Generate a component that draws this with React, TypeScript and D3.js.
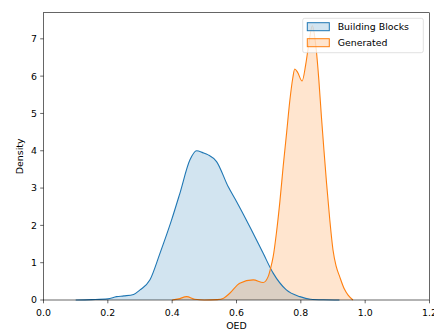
import React from "react";
import * as d3 from "d3";

const bbX = [0.10, 0.15, 0.20, 0.227, 0.25, 0.28, 0.30, 0.331, 0.362, 0.398, 0.424, 0.455, 0.476, 0.495, 0.512, 0.538, 0.574, 0.600, 0.641, 0.683, 0.714, 0.755, 0.797, 0.83, 0.87, 0.92];
const bbY = [0.0, 0.01, 0.03, 0.09, 0.11, 0.15, 0.27, 0.54, 1.25, 2.14, 2.86, 3.75, 4.00, 3.95, 3.89, 3.71, 3.04, 2.64, 1.97, 1.25, 0.72, 0.27, 0.09, 0.02, 0.005, 0];

const genX = [0.40, 0.42, 0.445, 0.47, 0.50, 0.54, 0.56, 0.579, 0.61, 0.652, 0.683, 0.698, 0.706, 0.714, 0.724, 0.735, 0.745, 0.756, 0.766, 0.775, 0.781, 0.79, 0.804, 0.815, 0.822, 0.836, 0.848, 0.856, 0.864, 0.872, 0.880, 0.890, 0.900, 0.910, 0.921, 0.935, 0.947, 0.962];
const genY = [0, 0.03, 0.09, 0.02, 0, 0.01, 0.05, 0.18, 0.45, 0.54, 0.47, 0.62, 0.85, 1.16, 1.79, 2.65, 3.57, 4.5, 5.36, 5.95, 6.19, 6.1, 5.87, 6.3, 6.70, 7.35, 6.70, 5.9, 4.91, 4.0, 3.13, 2.15, 1.34, 0.9, 0.62, 0.3, 0.13, 0];

const xTicks = [0.0, 0.2, 0.4, 0.6, 0.8, 1.0, 1.2];
const yTicks = [0, 1, 2, 3, 4, 5, 6, 7];
const seriesNames = ["Building Blocks", "Generated"];
const colors = ["#1f77b4", "#ff7f0e"];

const W = 434, H = 331;
const L = 43.5, R = 429.5, T = 12.7, B = 300;

export default function App() {
  const x = d3.scaleLinear().domain([0, 1.2]).range([L, R]);
  const y = d3.scaleLinear().domain([0, 7.7]).range([B, T]);
  const series = [
    bbX.map((v, i) => [v, bbY[i]] as [number, number]),
    genX.map((v, i) => [v, genY[i]] as [number, number]),
  ];
  const area = d3.area<[number, number]>().x(d => x(d[0])).y0(y(0)).y1(d => y(d[1])).curve(d3.curveMonotoneX);
  const line = d3.line<[number, number]>().x(d => x(d[0])).y(d => y(d[1])).curve(d3.curveMonotoneX);
  const font = "DejaVu Sans, sans-serif";
  const fs = 9.4;
  return (
    <svg width={W} height={H} style={{ position: "absolute", left: 0, top: 0 }} fontFamily={font}>
      <rect x={0} y={0} width={W} height={H} fill="white" />
      {series.map((s, i) => (
        <path key={"a" + i} d={area(s) || ""} fill={colors[i]} fillOpacity={0.2} stroke="none" />
      ))}
      {series.map((s, i) => (
        <path key={"l" + i} d={line(s) || ""} fill="none" stroke={colors[i]} strokeWidth={1.1} />
      ))}
      <rect x={L} y={T} width={R - L} height={B - T} fill="none" stroke="#000" strokeWidth={0.6} />
      {xTicks.map(t => (
        <g key={"x" + t}>
          <line x1={x(t)} x2={x(t)} y1={B} y2={B + 3.3} stroke="#000" strokeWidth={0.6} />
          <text x={x(t)} y={B + 15.5} fontSize={fs} textAnchor="middle" fill="#000">{t.toFixed(1)}</text>
        </g>
      ))}
      {yTicks.map(t => (
        <g key={"y" + t}>
          <line x1={L - 3.3} x2={L} y1={y(t)} y2={y(t)} stroke="#000" strokeWidth={0.6} />
          <text x={L - 6.5} y={y(t) + 3.4} fontSize={fs} textAnchor="end" fill="#000">{t}</text>
        </g>
      ))}
      <text x={(L + R) / 2} y={329} fontSize={fs} textAnchor="middle" fill="#000">OED</text>
      <text transform={`translate(23.2,${(T + B) / 2}) rotate(-90)`} fontSize={fs} textAnchor="middle" fill="#000">Density</text>
      <g>
        <rect x={302.7} y={18.3} width={120.6} height={34.4} rx={2} fill="white" fillOpacity={0.8} stroke="#cccccc" strokeWidth={0.6} />
        {seriesNames.map((n, i) => (
          <g key={n}>
            <rect x={307.3} y={22.7 + i * 16} width={22} height={8} fill={colors[i]} fillOpacity={0.2} stroke={colors[i]} strokeWidth={1} />
            <text x={337.7} y={30 + i * 16} fontSize={fs} fill="#000">{n}</text>
          </g>
        ))}
      </g>
    </svg>
  );
}
